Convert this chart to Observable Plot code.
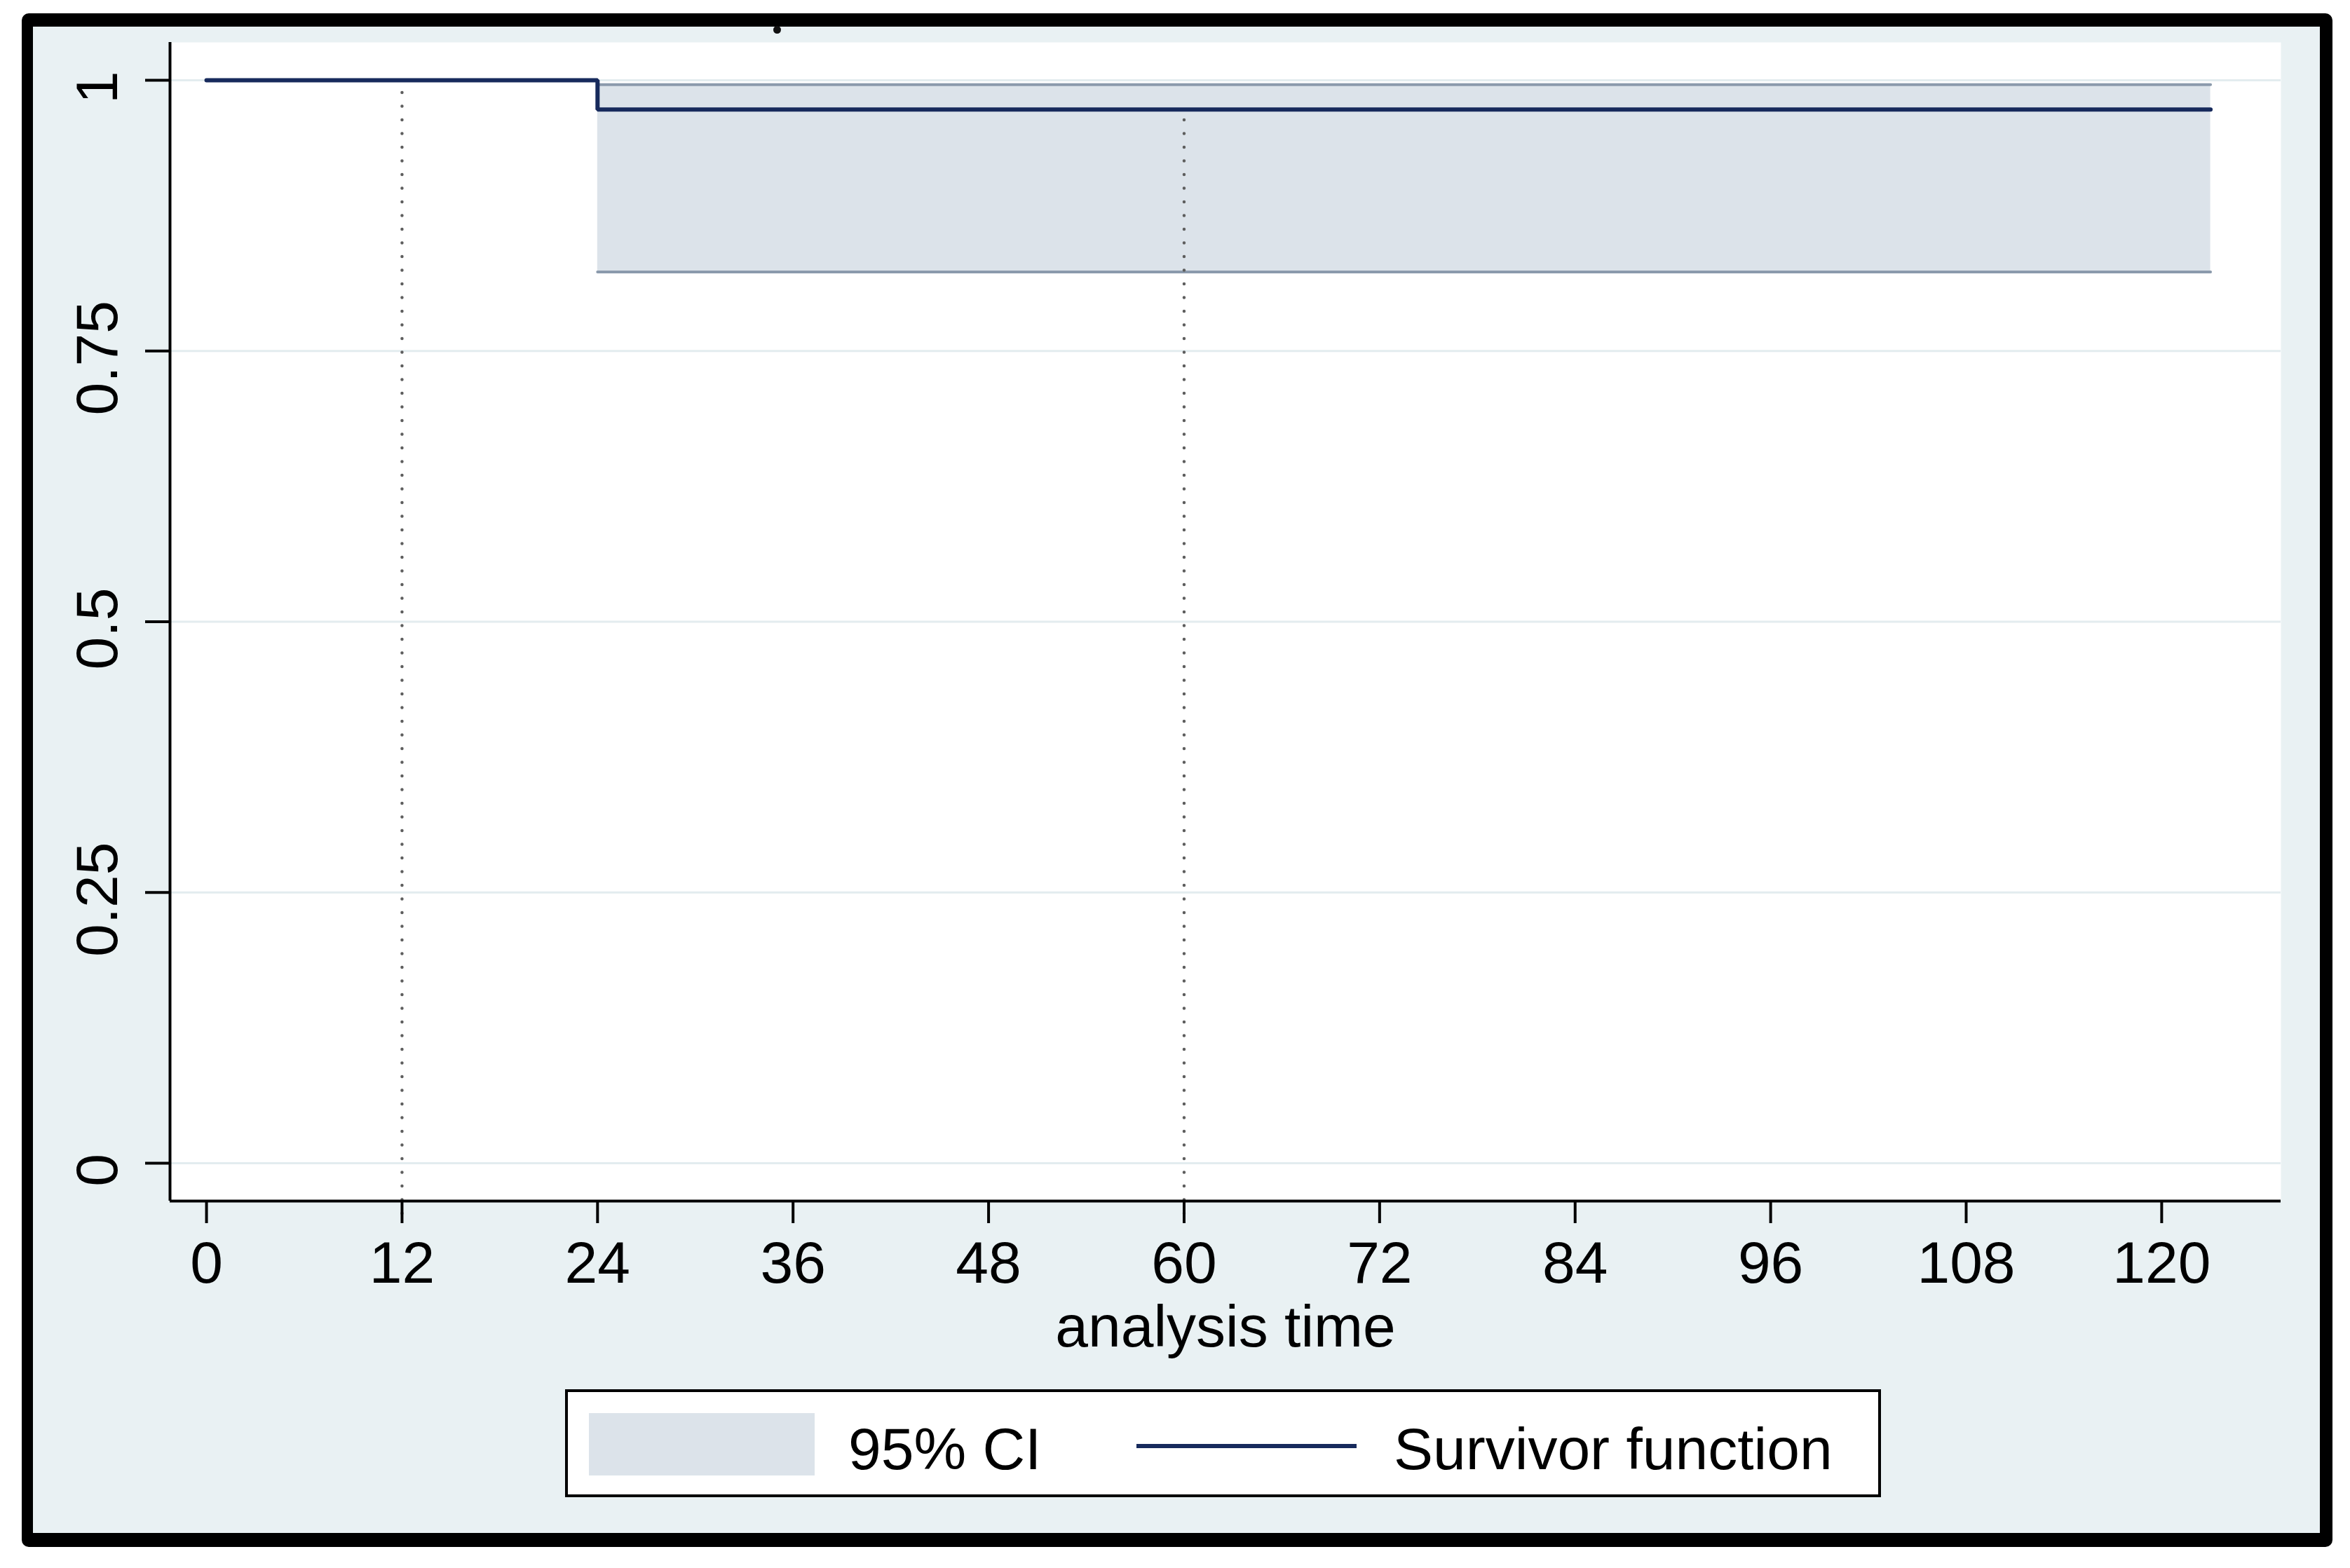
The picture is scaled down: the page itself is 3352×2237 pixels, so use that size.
<!DOCTYPE html>
<html>
<head>
<meta charset="utf-8">
<script src="https://cdn.jsdelivr.net/npm/d3@7"></script>
<script src="https://cdn.jsdelivr.net/npm/@observablehq/plot@0.6"></script>
<style>
  html, body { margin: 0; padding: 0; background: #ffffff; }
  body { width: 3352px; height: 2237px; position: relative; overflow: hidden;
         font-family: "Liberation Sans", Arial, Helvetica, sans-serif; }
  #frame { position: absolute; left: 31px; top: 19px; width: 3296px; height: 2188px;
           box-sizing: border-box; border-style: solid; border-color: #000;
           border-width: 19px 18px 20px 16px; border-radius: 10px; background: #e9f1f3; }
  #chart { position: absolute; left: 0; top: 0; }
  #legend { position: absolute; left: 806px; top: 1982px; width: 1877px; height: 154px;
            box-sizing: border-box; border: 4px solid #000; background: #fff; }
  #legend .sw { position: absolute; left: 30px; top: 30px; width: 322px; height: 89px; background: #dce3ea; }
  #legend .ln { position: absolute; left: 811px; top: 74px; width: 314px; height: 6px; background: #172a5c; }
  #legend .lab { position: absolute; top: 39px; font-size: 84px; line-height: 84px; color: #000; white-space: nowrap; }
  #dot { position: absolute; left: 1103px; top: 37px; width: 11px; height: 11px; border-radius: 50%; background: #111; }
</style>
</head>
<body>
<div id="frame"><div id="chart"></div></div>
<div id="dot"></div>
<div id="legend">
  <div class="sw"></div>
  <div class="lab" id="lab1" style="left:400px"></div>
  <div class="ln"></div>
  <div class="lab" id="lab2" style="left:1178px"></div>
</div>
<script>
// ---- data ----
const times = [0, 24, 123];
const survival = [1, 0.973, 0.973];
const ciTimes = [24, 123];
const ciLower = [0.823, 0.823];
const ciUpper = [0.996, 0.996];
const dropTimes = [12, 60];
const xTicks = [0, 12, 24, 36, 48, 60, 72, 84, 96, 108, 120];
const yTicks = [0, 0.25, 0.5, 0.75, 1];
const yTickLabels = ["0", "0.25", "0.5", "0.75", "1"];
const xTitle = "analysis time";
const legendLabels = ["95% CI", "Survivor function"];

const xDomain = [-2.24, 127.32];
const yDomain = [-0.035, 1.035];

const survData = times.map((t, i) => ({time: t, surv: survival[i]}));
const ciData = ciTimes.map((t, i) => ({time: t, lo: ciLower[i], hi: ciUpper[i]}));
function survAt(t) {
  let s = survival[0];
  for (let i = 0; i < times.length; i++) if (times[i] <= t) s = survival[i];
  return s;
}
const dropData = dropTimes.map(t => ({time: t, surv: survAt(t)}));
const yLabData = yTicks.map((v, i) => ({v, label: yTickLabels[i]}));

const navy = "#172a5c";
const ciEdge = "#8b9aac";
const ciFill = "#dce3ea";

const plot = Plot.plot({
  width: 3262,
  height: 1940,
  marginLeft: 195,
  marginRight: 56,
  marginTop: 22,
  marginBottom: 265,
  style: {background: "transparent", fontFamily: "'Liberation Sans', Arial, Helvetica, sans-serif", fontSize: "84px", maxWidth: "none", overflow: "visible"},
  x: {domain: xDomain, ticks: xTicks},
  y: {domain: yDomain, ticks: yTicks},
  marks: [
    Plot.frame({fill: "#ffffff", stroke: null}),
    Plot.ruleY(yTicks, {stroke: "#e3ecef", strokeWidth: 3}),
    Plot.areaY(ciData, {x: "time", y1: "lo", y2: "hi", curve: "step-after", fill: ciFill}),
    Plot.line(ciData, {x: "time", y: "hi", curve: "step-after", stroke: ciEdge, strokeWidth: 4}),
    Plot.line(ciData, {x: "time", y: "lo", curve: "step-after", stroke: ciEdge, strokeWidth: 4}),
    Plot.ruleX(dropData, {x: "time", y1: yDomain[0], y2: "surv", stroke: "#5e5e5e", strokeWidth: 4.5,
      strokeDasharray: "0.1 19.4", strokeLinecap: "round", insetTop: 18}),
    Plot.line(survData, {x: "time", y: "surv", curve: "step-after", stroke: navy, strokeWidth: 6, strokeLinejoin: "miter"}),
    Plot.ruleX([xDomain[0]], {stroke: "#000", strokeWidth: 4}),
    Plot.ruleY([yDomain[0]], {stroke: "#000", strokeWidth: 4}),
    Plot.axisX({ticks: xTicks, tickSize: 32, tickPadding: 25, strokeWidth: 4, stroke: "#000", fill: "#000", fontSize: 84, label: null}),
    Plot.axisY({ticks: yTicks, tickSize: 35, strokeWidth: 4, stroke: "#000", tickFormat: () => "", label: null}),
    Plot.text(yLabData, {y: "v", text: "label", frameAnchor: "left", dx: -102, dy: 10, rotate: -90,
      textAnchor: "middle", lineAnchor: "middle", fontSize: 84, fill: "#000"}),
    Plot.text([xTitle], {text: d => d, frameAnchor: "bottom", dy: 181, lineAnchor: "middle",
      fontSize: 84, fill: "#000"})
  ]
});
document.getElementById("chart").appendChild(plot);
document.getElementById("lab1").textContent = legendLabels[0];
document.getElementById("lab2").textContent = legendLabels[1];
</script>
</body>
</html>
